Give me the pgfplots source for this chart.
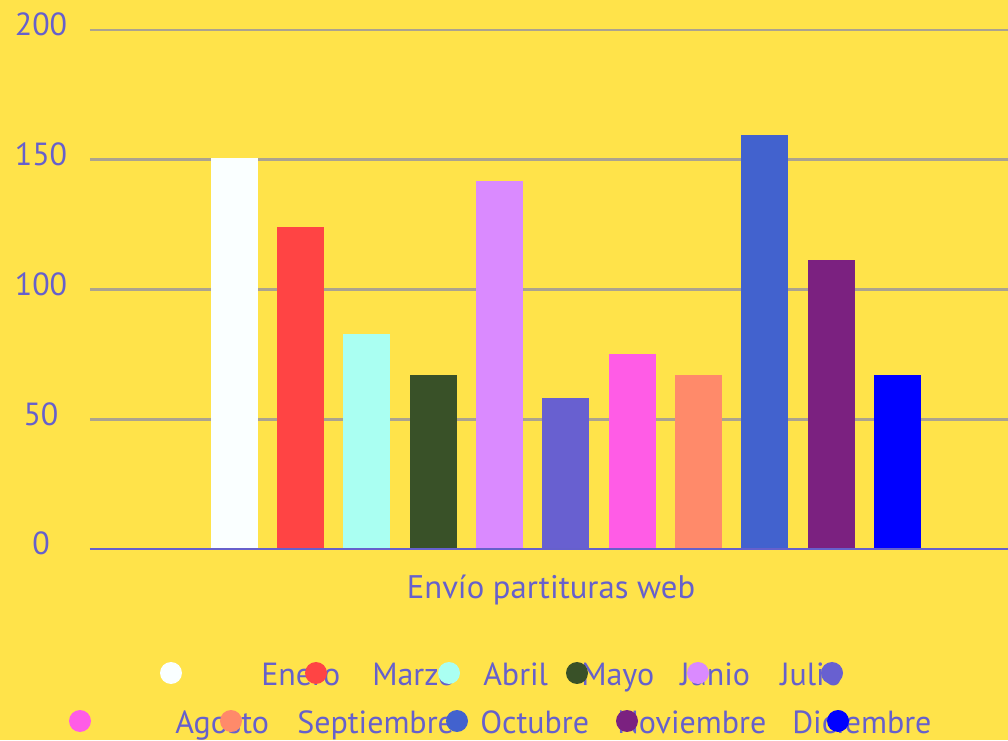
\documentclass[border=0pt]{standalone}
\usepackage{pgfplots}
\pgfplotsset{compat=1.18}
\usepackage{fontspec}
\setmainfont{PT Sans}
\definecolor{bg}{RGB}{255,227,74}
\definecolor{txt}{RGB}{102,96,204}
\definecolor{gridc}{RGB}{172,163,142}
\definecolor{c1}{RGB}{250,255,255}
\definecolor{c2}{RGB}{255,68,68}
\definecolor{c3}{RGB}{170,255,242}
\definecolor{c4}{RGB}{57,81,40}
\definecolor{c5}{RGB}{218,138,255}
\definecolor{c6}{RGB}{104,96,208}
\definecolor{c7}{RGB}{255,92,230}
\definecolor{c8}{RGB}{255,138,106}
\definecolor{c9}{RGB}{66,98,206}
\definecolor{c10}{RGB}{123,33,128}
\definecolor{c11}{RGB}{0,0,255}
\newcommand{\lf}{\fontsize{24}{27}\selectfont}
\newcommand{\xf}{\fontsize{24.5}{27}\selectfont}
\begin{document}
\begin{tikzpicture}[x=0.75pt,y=0.75pt]
\fill[bg] (0,0) rectangle (1008,740);
\useasboundingbox (0,0) rectangle (1008,740);
\begin{axis}[
  at={(67.5pt,143.25pt)}, anchor=south west,
  scale only axis, width=688.5pt, height=389.25pt,
  xmin=90, xmax=1008, ymin=0, ymax=200,
  axis line style={draw=none},
  major tick length=0pt,
  ymajorgrids, grid style={gridc, line width=2pt},
  ytick={0,50,100,150,200},
  xtick={551}, xticklabels={Envío partituras web},
  /pgf/number format/assume math mode=true,
  yticklabel style={anchor=base, xshift=-36.75pt, yshift=-4.5pt, text=txt, font=\lf},
  xticklabel style={anchor=base, yshift=-37.5pt, text=txt, font=\xf},
  clip=false,
  every axis plot/.append style={ybar, bar width=47, bar shift=0pt, draw=none},
]
\addplot[fill=c1] coordinates {(234.5,150.7)};
\addplot[fill=c2] coordinates {(300.5,124)};
\addplot[fill=c3] coordinates {(366.5,83)};
\addplot[fill=c4] coordinates {(433.5,67)};
\addplot[fill=c5] coordinates {(499.5,141.8)};
\addplot[fill=c6] coordinates {(565.5,58)};
\addplot[fill=c7] coordinates {(632.5,75)};
\addplot[fill=c8] coordinates {(698.5,67)};
\addplot[fill=c9] coordinates {(764.5,159.5)};
\addplot[fill=c10] coordinates {(831.5,111.4)};
\addplot[fill=c11] coordinates {(897.5,67)};
\draw[txt, line width=2pt] (axis cs:90,0) -- (axis cs:1008,0);
\end{axis}
% legend
\begin{scope}[every node/.style={anchor=base west, inner sep=0pt, text=txt, font=\lf}]
\node at (261,55) {Enero};
\node at (372,55) {Marzo};
\node at (483,55) {Abril};
\node at (581,55) {Mayo};
\node at (680,55) {Junio};
\node at (780,55) {Julio};
\node at (175,7) {Agosto};
\node at (297,7) {Septiembre};
\node at (480,7) {Octubre};
\node at (617,7) {Noviembre};
\node at (792,7) {Diciembre};
\end{scope}
\fill[c1] (171,67) circle (8.25pt);
\fill[c2] (316,67) circle (8.25pt);
\fill[c3] (449,67) circle (8.25pt);
\fill[c4] (577,67) circle (8.25pt);
\fill[c5] (698,67) circle (8.25pt);
\fill[c6] (832,67) circle (8.25pt);
\fill[c7] (80,19) circle (8.25pt);
\fill[c8] (231,19) circle (8.25pt);
\fill[c9] (457,19) circle (8.25pt);
\fill[c10] (627,19) circle (8.25pt);
\fill[c11] (838,19) circle (8.25pt);
\end{tikzpicture}
\end{document}
